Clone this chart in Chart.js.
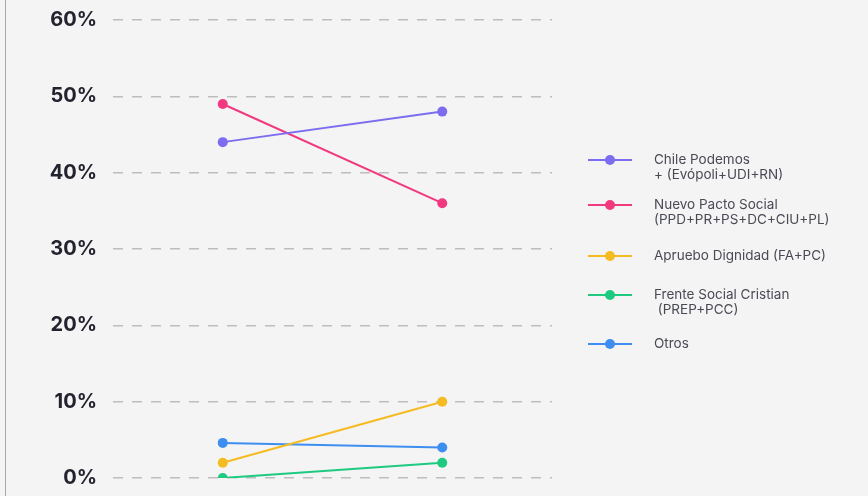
<!DOCTYPE html>
<html>
<head>
<meta charset="utf-8">
<script src="https://cdn.jsdelivr.net/npm/chart.js@4.4.0/dist/chart.umd.min.js"></script>
<style>
  html, body { margin: 0; padding: 0; background: #f4f4f4; }
  #wrap { position: relative; width: 868px; height: 496px; }
  #edge { position: absolute; left: 5px; top: 0; width: 1px; height: 496px; background: #a8a8a8; }
</style>
</head>
<body>
<div id="wrap">
  <div id="edge"></div>
  <canvas id="chart" width="868" height="496"></canvas>
</div>
<script>
const categories = ['Antes', 'Después'];
const seriesNames = [
  ['Chile Podemos', '+ (Evópoli+UDI+RN)'],
  ['Nuevo Pacto Social', '(PPD+PR+PS+DC+CIU+PL)'],
  ['Apruebo Dignidad (FA+PC)'],
  ['Frente Social Cristian', ' (PREP+PCC)'],
  ['Otros']
];
const chilePodemos = [44, 48];
const nuevoPacto = [49, 36];
const aprueboDignidad = [2, 10];
const frenteSocial = [0, 2];
const otros = [4.6, 4];
const yTicks = [0, 10, 20, 30, 40, 50, 60];

const colors = ['#7b6cf0', '#f0397f', '#f5bb22', '#1dca80', '#3d8ef0'];
const values = [chilePodemos, nuevoPacto, aprueboDignidad, frenteSocial, otros];

const datasets = values.map(function(v, i) {
  return {
    label: seriesNames[i].join(' '),
    data: v,
    borderColor: colors[i],
    backgroundColor: colors[i],
    borderWidth: 2,
    pointRadius: 5,
    pointHoverRadius: 5,
    pointBorderWidth: 0,
    tension: 0
  };
});

// legend drawn by hand so the two-line labels sit like the original
const sideLegend = {
  id: 'sideLegend',
  afterDraw: function(chart) {
    const ctx = chart.ctx;
    const rows = [160, 205, 256, 295, 344];
    ctx.save();
    ctx.font = '13.5px Inter, "Open Sans", sans-serif';
    ctx.textBaseline = 'middle';
    ctx.textAlign = 'left';
    seriesNames.forEach(function(lines, i) {
      const y = rows[i];
      ctx.strokeStyle = colors[i];
      ctx.lineWidth = 2;
      ctx.beginPath();
      ctx.moveTo(588, y);
      ctx.lineTo(632, y);
      ctx.stroke();
      ctx.fillStyle = colors[i];
      ctx.beginPath();
      ctx.arc(610, y, 5, 0, Math.PI * 2);
      ctx.fill();
      ctx.fillStyle = '#4a4a55';
      lines.forEach(function(t, j) {
        ctx.fillText(t, 654, y + j * 15);
      });
    });
    ctx.restore();
  }
};

new Chart(document.getElementById('chart'), {
  type: 'line',
  data: { labels: categories, datasets: datasets },
  plugins: [sideLegend],
  options: {
    responsive: false,
    animation: false,
    layout: { padding: { top: 20, right: 316, bottom: 18, left: 0 } },
    plugins: {
      legend: { display: false },
      tooltip: { enabled: false }
    },
    scales: {
      x: { display: false, offset: true },
      y: {
        min: 0,
        max: 60,
        afterFit: function(s) {
          s.width = 113;
          s.paddingTop = 0;
          s.paddingBottom = 0;
        },
        afterBuildTicks: function(s) { s.ticks = yTicks.map(function(v) { return { value: v }; }); },
        grid: { color: '#bdbdbd', lineWidth: 1.5, drawTicks: false },
        border: { display: false, dash: [10, 9] },
        ticks: {
          padding: 16,
          color: '#23232f',
          font: { family: 'Inter, "Open Sans", sans-serif', size: 20, weight: 'bold' },
          callback: function(v) { return v + '%'; }
        }
      }
    }
  }
});
</script>
</body>
</html>
